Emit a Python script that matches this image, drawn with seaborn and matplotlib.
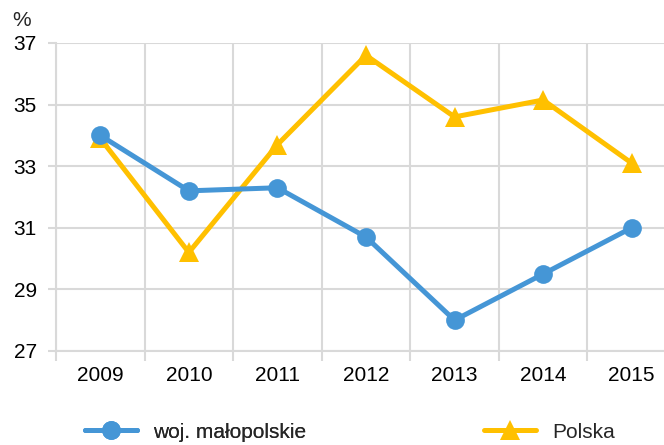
import pandas as pd
import seaborn as sns
import matplotlib.pyplot as plt
from matplotlib.ticker import FixedLocator

# data
years = ["2009", "2010", "2011", "2012", "2013", "2014", "2015"]
malopolskie = [34.0, 32.2, 32.3, 30.7, 28.0, 29.5, 31.0]
polska = [33.9, 30.2, 33.7, 36.6, 34.6, 35.15, 33.1]
y_ticks = [27, 29, 31, 33, 35, 37]

df = pd.DataFrame({"rok": years, "woj. małopolskie": malopolskie, "Polska": polska})

sns.set_theme(style="white")
plt.rcParams["font.family"] = ["Liberation Sans", "DejaVu Sans"]

blue = "#4596D6"
yellow = "#FFC000"
grey = "#D9D9D9"
fs = 15

fig = plt.figure(figsize=(6.64, 4.45), dpi=100)
ax = fig.add_axes([56 / 664, 1 - 351 / 445, 620 / 664, 308 / 445])

sns.lineplot(data=df, x="rok", y="woj. małopolskie", ax=ax, color=blue, lw=3.6,
             marker="o", markersize=13.5, markeredgewidth=0, label="woj. małopolskie",
             legend=False, zorder=4)
sns.lineplot(data=df, x="rok", y="Polska", ax=ax, color=yellow, lw=3.6,
             marker="^", markersize=14.5, markeredgewidth=0, label="Polska",
             legend=False, zorder=3)

ax.set_xlim(-0.5, 6.5)
ax.set_ylim(27, 37)
ax.set_yticks(y_ticks)
ax.set_xlabel("")
ax.set_ylabel("")

# category boundaries as minor ticks / vertical grid
ax.xaxis.set_minor_locator(FixedLocator([i - 0.5 for i in range(len(years) + 1)]))
ax.grid(True, axis="y", which="major", color=grey, lw=1.5)
ax.grid(True, axis="x", which="minor", color=grey, lw=1.5)
ax.grid(False, axis="x", which="major")

ax.tick_params(axis="x", which="major", length=0, pad=11, labelsize=fs, colors="#000000")
ax.tick_params(axis="x", which="minor", length=7.5, width=1.5, color=grey, direction="out", bottom=True)
ax.tick_params(axis="y", which="major", length=5.8, width=1.5, color=grey, pad=8,
               labelsize=fs, labelcolor="#000000", left=True)

for side in ["top", "right"]:
    ax.spines[side].set_visible(False)
for side in ["left", "bottom"]:
    ax.spines[side].set_color(grey)
    ax.spines[side].set_linewidth(1.5)

fig.text(12 / 664, 1 - 21 / 445, "%", fontsize=fs, va="center", ha="left")

h, l = ax.get_legend_handles_labels()
leg1 = fig.legend([h[0]], [l[0]], loc="center left", bbox_to_anchor=(85 / 664, 1 - 432 / 445),
                  frameon=False, fontsize=fs, borderpad=0, borderaxespad=0,
                  handlelength=2.5, handletextpad=0.77)
fig.legend([h[1]], [l[1]], loc="center left", bbox_to_anchor=(484 / 664, 1 - 432 / 445),
           frameon=False, fontsize=fs, borderpad=0, borderaxespad=0,
           handlelength=2.5, handletextpad=0.77)
fig.add_artist(leg1)

fig.savefig("out.png", dpi=100)
